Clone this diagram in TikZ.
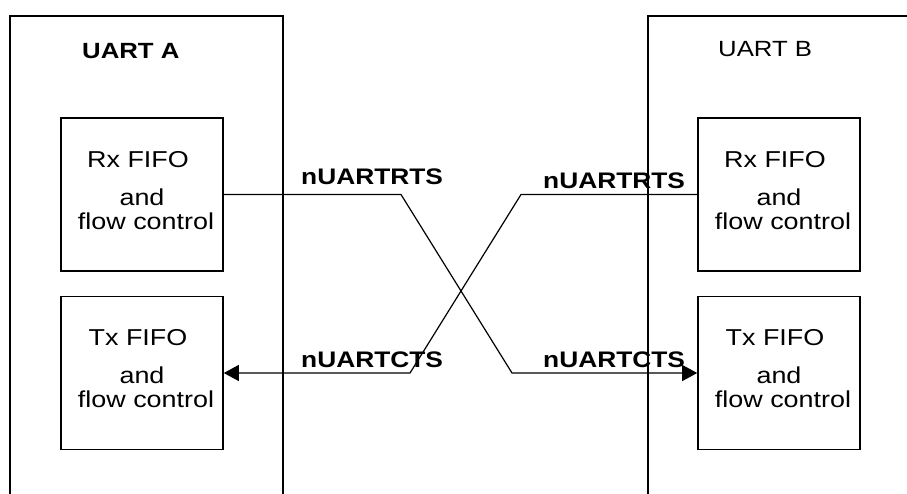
\documentclass[tikz,border=0pt]{standalone}
\usepackage{fontspec}
\setmainfont[FakeStretch=1.17]{Liberation Sans}
\usetikzlibrary{arrows.meta}

\begin{document}
\begin{tikzpicture}[x=1pt, y=-1pt,
    uartbox/.style={draw, line width=1.6pt, minimum width=#1, minimum height=544pt, inner sep=0pt},
    fifobox/.style={draw, line width=1.6pt, minimum width=162pt, minimum height=153pt, inner sep=0pt},
    fifotext/.style={anchor=base, inner sep=0pt, font=\fontsize{23}{27}\selectfont},
    sigtext/.style={anchor=base west, inner sep=0pt, font=\fontsize{22.5}{27}\selectfont\bfseries},
    wire/.style={line width=1.2pt},
    tip/.style={-{Triangle[length=15pt, width=16pt]}}]
  \useasboundingbox (0,0) rectangle (907,494);
  \clip (0,0) rectangle (907,494);

  % The two UARTs
  \node[uartbox=273pt] (uartA) at (146.5,288) {};
  \node[uartbox=332pt] (uartB) at (814,288) {};
  \node[anchor=base west, inner sep=0pt, font=\fontsize{22}{26}\selectfont\bfseries] (nameA) at (82,59) {UART A};
  \node[anchor=base west, inner sep=0pt, font=\fontsize{22}{26}\selectfont] (nameB) at (718,57) {UART B};

  % FIFO blocks
  \node[fifobox] (rxA) at (142,194.5) {};
  \node[fifobox] (txA) at (142,373) {};
  \node[fifobox] (rxB) at (779,194.5) {};
  \node[fifobox] (txB) at (779,373) {};

  % Block texts
  \foreach \blk/\dir in {rxA/Rx, txA/Tx, rxB/Rx, txB/Tx} {
    \node[fifotext] at ([xshift=-4pt, yshift=-50pt]\blk.north) {\dir\ FIFO};
    \node[fifotext] at ([yshift=-88pt]\blk.north) {and};
    \node[fifotext] at ([xshift=4pt, yshift=-112pt]\blk.north) {flow control};
  }

  % Crossed handshake lines
  \coordinate (rtsA) at (401,194.5);
  \coordinate (rtsB) at (512,373);
  \coordinate (ctsB) at (521,194.5);
  \coordinate (ctsA) at (410,373);
  \draw[wire, tip] (rxA.east) -- (rtsA) -- (rtsB) -- (txB.west);
  \draw[wire, tip] (rxB.west) -- (ctsB) -- (ctsA) -- (txA.east);

  % Signal labels
  \node[sigtext] (rtsLblA) at (301,185) {nUARTRTS};
  \node[sigtext] (rtsLblB) at (543,189) {nUARTRTS};
  \node[sigtext] (ctsLblA) at (301,367) {nUARTCTS};
  \node[sigtext] (ctsLblB) at (543,367) {nUARTCTS};
\end{tikzpicture}
\end{document}
